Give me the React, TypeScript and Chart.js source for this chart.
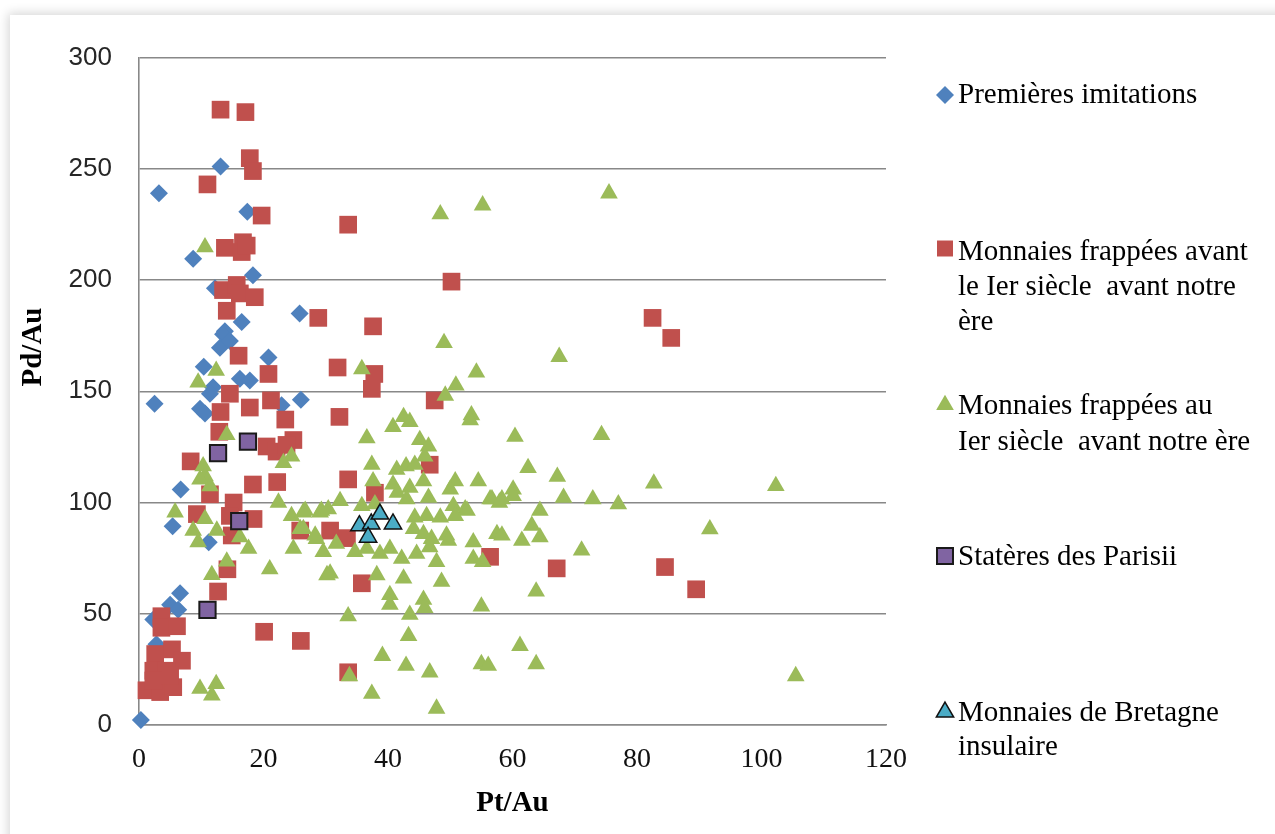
import React, { useEffect, useRef } from 'react';
import { Chart, registerables } from 'chart.js';
import { drawPoint } from 'chart.js/helpers';

Chart.register(...registerables);

// ---- Data (Pt/Au, Pd/Au) ----
const premieresImitations: [number, number][] = [
  [13.1, 251], [3.2, 239], [17.4, 230.7], [8.7, 209.6], [18.3, 202.2], [12.2, 196.3],
  [25.8, 185], [16.5, 181.2], [13.8, 177], [13.5, 175.6], [13, 169.6], [14.6, 172.6],
  [20.8, 165.2], [10.4, 161], [16.2, 155.6], [17.8, 154.8], [11.9, 151.8], [11.4, 148.9],
  [2.5, 144.4], [26, 146.2], [9.8, 142.2], [10.6, 140], [22.9, 143.7], [6.7, 105.9],
  [5.4, 89.3], [11.2, 82.2], [6.6, 59.2], [5, 54], [6.3, 51.8], [2.3, 47.4], [2.8, 36.3],
  [0.3, 2.2],
];

const avantIerSiecle: [number, number][] = [
  [13.1, 276.6], [17.1, 275.5], [17.8, 254.8], [18.3, 249], [11, 243], [19.7, 229],
  [13.8, 214.5], [16.7, 217], [16.5, 212.6], [17.3, 215.5], [13.5, 195.5], [15.7, 197.8],
  [16.2, 194], [18.6, 192.3], [14.1, 186.2], [28.8, 183], [16, 166], [20.8, 157.8],
  [14.6, 148.9], [17.8, 142.7], [21.2, 145.9], [13.1, 140.7], [23.5, 137.3], [12.9, 131.8],
  [20.5, 125.2], [22.1, 122.9], [24.8, 128.1], [23.7, 125.9], [8.3, 118.5], [18.3, 108.1],
  [22.2, 109.2], [11.4, 103.7], [15.2, 100], [9.3, 94.8], [18.4, 92.6], [14.6, 94],
  [14.9, 85.2], [25.9, 87.4], [14.2, 70], [12.7, 60], [3.6, 48.9], [3.6, 43.7], [6.1, 44.4],
  [2.6, 31.9], [5.3, 34], [6.9, 28.9], [2.3, 24.4], [4.4, 24.4], [1.2, 15.6], [3.4, 14.8],
  [5.5, 17], [2.3, 20], [5, 22.2], [20.1, 41.9], [26, 37.8],
  [33.6, 224.9], [50.2, 199.3], [37.6, 179.2], [31.9, 160.7], [37.8, 157.8], [37.4, 151.1],
  [47.5, 145.9], [32.2, 138.5], [46.7, 117], [33.6, 110.4], [37.9, 104.4], [30.7, 87.4],
  [33.4, 84], [56.4, 75.6], [35.8, 63.7], [33.6, 23.7], [82.5, 183], [85.5, 174],
  [67.1, 70.4], [84.5, 71], [89.5, 61],
];

const auIerSiecle: [number, number][] = [
  [10.6, 214.8], [12.4, 159.3], [9.5, 154], [14.1, 130.4], [24.5, 120.7], [23.2, 117.8],
  [10.3, 116.3], [10.6, 111.9], [11.4, 107.4], [9.8, 110.4], [22.4, 100], [5.8, 95.6],
  [10.6, 92.6], [8.7, 87.4], [12.5, 87.4], [9.5, 82.2], [16.2, 84.4], [17.6, 79.3],
  [24.5, 94], [26.4, 95.6], [29.1, 95.6], [25.9, 88.1], [28.5, 83.7], [24.8, 79.3],
  [14.1, 73.5], [11.7, 67.5], [21, 70], [30.2, 67.4], [9.8, 16.3], [12.4, 18.5], [11.7, 13.3],
  [48.4, 229.6], [55.2, 233.6], [49, 171.7], [35.8, 160], [54.2, 158.5], [50.9, 152.6],
  [49.2, 148.1], [42.5, 138.5], [43.5, 136.3], [40.8, 134], [36.6, 128.9], [53.4, 139.3],
  [53.2, 137], [45.1, 128.1], [46.5, 125.2], [45.9, 120.7], [37.4, 117], [41.4, 114.8],
  [42.9, 116.3], [44.3, 117], [37.6, 109.6], [40.8, 108.1], [43.5, 106.7], [41.5, 104.4],
  [45.7, 109.6], [50.8, 109.6], [54.5, 109.6], [43, 101.5], [46.5, 102.2], [50, 105.9],
  [50.5, 98.5], [52.4, 97], [56.7, 101.5], [57.9, 100], [26.7, 96.3], [29.3, 96.3],
  [30.4, 97], [32.3, 100.7], [35.8, 98.5], [37.9, 99.3], [26.4, 88.1], [28.3, 85.2],
  [29.6, 77.8], [31.7, 81.5], [34.7, 77.8], [36.6, 79.3], [44.3, 93.3], [46.2, 94],
  [48.4, 93.3], [50.8, 94], [52.7, 96.3], [44.1, 88.1], [45.7, 85.9], [47, 83.7],
  [49.4, 85.2], [49.7, 82.9], [38.7, 77], [40.3, 79.3], [42.2, 74.8], [44.6, 77],
  [46.7, 80], [47.8, 73.3], [53.7, 82.2], [55.2, 73.3], [57.5, 85.9], [53.7, 74.8],
  [30.7, 68.1], [38.2, 67.4], [42.5, 65.9], [48.6, 64.4], [40.3, 58.5], [40.3, 54.1],
  [45.7, 56.3], [45.9, 52.6], [33.6, 48.9], [43.5, 49.6], [55, 53.3], [43.3, 40],
  [39.1, 31.1], [42.9, 26.7], [46.7, 23.7], [55, 27.4], [56.1, 26.7], [33.8, 22],
  [37.4, 14.1], [47.8, 7.4],
  [75.5, 239], [67.5, 165.5], [60.4, 129.6], [74.3, 130.4], [62.5, 115.6], [67.2, 111.6],
  [82.7, 108.6], [56.4, 101.5], [58.3, 101.5], [60.1, 105.9], [60.1, 103], [68.2, 102.2],
  [72.9, 101.5], [77, 99.3], [64.4, 96.3], [63.1, 89.6], [58.3, 85.2], [61.5, 82.9],
  [64.4, 84.4], [71.1, 78.5], [63.8, 60], [61.2, 35.6], [63.8, 27.4], [102.3, 107.5],
  [91.7, 88], [105.5, 22],
];

const parisii: [number, number][] = [
  [17.5, 127.4], [12.7, 122.2], [16.1, 91.6], [11, 51.8],
];

const bretagne: [number, number][] = [
  [35.4, 89.6], [37.3, 90.4], [38.7, 94.8], [40.8, 90.4], [36.8, 84.4],
];

const seriesLabels: string[][] = [
  ['Premières imitations'],
  ['Monnaies frappées avant', 'le Ier siècle  avant notre', 'ère'],
  ['Monnaies frappées au', 'Ier siècle  avant notre ère'],
  ['Statères des Parisii'],
  ['Monnaies de Bretagne', 'insulaire'],
];

const xTitle = 'Pt/Au';
const yTitle = 'Pd/Au';

const styles = [
  { pointStyle: 'rectRot', radius: 9, bg: '#4F81BD', border: '#4F81BD', bw: 0 },
  { pointStyle: 'rect', radius: 12.5, bg: '#C0504D', border: '#C0504D', bw: 0 },
  { pointStyle: 'triangle', radius: 10.2, bg: '#9BBB59', border: '#9BBB59', bw: 0 },
  { pointStyle: 'rect', radius: 11.5, bg: '#8064A2', border: '#1a1a1a', bw: 2 },
  { pointStyle: 'triangle', radius: 10, bg: '#4BACC6', border: '#111111', bw: 1.5 },
];

// legend layout (canvas coords)
const legendPos = [
  { mx: 935, my: 80, tx: 948, baselines: [88] },
  { mx: 935, my: 233.5, tx: 948, baselines: [245, 280, 315] },
  { mx: 935, my: 390, tx: 948, baselines: [399, 435] },
  { mx: 935, my: 541, tx: 948, baselines: [550] },
  { mx: 935, my: 697, tx: 948, baselines: [706, 740] },
];

export default function App() {
  const ref = useRef<HTMLCanvasElement | null>(null);

  useEffect(() => {
    const canvas = ref.current;
    if (!canvas) return;
    const all = [premieresImitations, avantIerSiecle, auIerSiecle, parisii, bretagne];

    const customPlugin = {
      id: 'customLegendAndTitle',
      afterDraw(chart: any) {
        const ctx = chart.ctx as CanvasRenderingContext2D;
        ctx.save();
        ctx.translate(24, 332);
        ctx.rotate(-Math.PI / 2);
        ctx.font = 'bold 29px "Liberation Serif"';
        ctx.fillStyle = '#000';
        ctx.textAlign = 'center';
        ctx.textBaseline = 'middle';
        ctx.fillText(yTitle, 0, 0);
        ctx.restore();

        ctx.save();
        legendPos.forEach((p, i) => {
          const s = styles[i];
          ctx.fillStyle = s.bg;
          ctx.strokeStyle = s.border;
          ctx.lineWidth = s.bw;
          const r = i === 1 || i === 3 ? 11.3 : s.radius;
          drawPoint(ctx, { pointStyle: s.pointStyle as any, rotation: 0, radius: r, borderWidth: s.bw }, p.mx, p.my);
          ctx.fillStyle = '#000';
          ctx.font = '29px "Liberation Serif"';
          ctx.textAlign = 'left';
          ctx.textBaseline = 'alphabetic';
          seriesLabels[i].forEach((line, j) => {
            ctx.fillText(line, p.tx, p.baselines[j]);
          });
        });
        ctx.restore();
      },
    };

    const chart = new Chart(canvas, {
      type: 'scatter',
      data: {
        datasets: all.map((arr, i) => ({
          label: seriesLabels[i].join(' '),
          data: arr.map(([x, y]) => ({ x, y })),
          pointStyle: styles[i].pointStyle as any,
          pointRadius: styles[i].radius,
          pointHoverRadius: styles[i].radius,
          pointBackgroundColor: styles[i].bg,
          pointBorderColor: styles[i].border,
          pointBorderWidth: styles[i].bw,
          order: 5 - i,
          clip: false as any,
        })),
      },
      options: {
        responsive: false,
        animation: false,
        events: [],
        layout: { padding: { top: 35, right: 389, left: 0, bottom: 0 } },
        plugins: {
          legend: { display: false },
          tooltip: { enabled: false },
        },
        scales: {
          x: {
            type: 'linear',
            min: 0,
            max: 120,
            ticks: {
              stepSize: 20,
              padding: 18,
              color: '#111',
              font: { family: '"Liberation Serif"', size: 28 },
            },
            grid: { display: false, drawTicks: false },
            border: { display: true, color: '#8c8c8c', width: 1.5 },
            title: {
              display: true,
              text: xTitle,
              color: '#000',
              font: { family: '"Liberation Serif"', size: 29, weight: 'bold' },
              padding: { top: 0, bottom: 13 },
            },
            afterFit(scale: any) {
              scale.height = 109;
            },
          },
          y: {
            type: 'linear',
            min: 0,
            max: 300,
            ticks: {
              stepSize: 50,
              padding: 27,
              color: '#262626',
              font: { family: '"Liberation Sans"', size: 26 },
            },
            grid: { color: '#888888', lineWidth: 1.6, drawTicks: false },
            border: { display: true, color: '#888888', width: 1.6 },
            afterFit(scale: any) {
              scale.width = 129;
            },
          },
        },
      },
      plugins: [customPlugin],
    });
    return () => chart.destroy();
  }, []);

  return (
    <div style={{ position: 'fixed', left: 0, top: 0, width: 1275, height: 834, overflow: 'hidden', background: '#ffffff' }}>
      <div
        style={{
          position: 'absolute',
          left: 10,
          top: 15,
          width: 1275,
          height: 834,
          background: '#ffffff',
          boxShadow: '0 0 10px 2px rgba(0,0,0,0.16)',
        }}
      >
        <canvas ref={ref} width={1265} height={819} style={{ display: 'block', width: 1265, height: 819 }} />
      </div>
    </div>
  );
}
